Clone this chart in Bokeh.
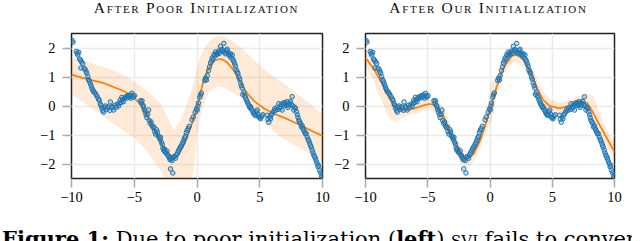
import numpy as np
from bokeh.plotting import figure
from bokeh.models import Div, FixedTicker
from bokeh.layouts import row, column
from bokeh.embed import file_html
from bokeh.resources import INLINE

# ---------------- data ----------------
obs_x = [
    -9.95, -9.88, -9.62, -9.55, -9.50, -9.42, -9.35, -9.28, -9.25, -9.20,
    -9.10, -9.00, -8.92, -8.85, -8.78, -8.70, -8.65, -8.58, -8.50, -8.44,
    -8.38, -8.30, -8.25, -8.15, -8.05, -7.95, -7.85, -7.79, -7.71, -7.65,
    -7.58, -7.50, -7.45, -7.38, -7.30, -7.22, -7.12, -7.05, -6.95, -6.90,
    -6.80, -6.72, -6.65, -6.55, -6.45, -6.35, -6.25, -6.18, -6.12, -6.05,
    -5.99, -5.92, -5.86, -5.78, -5.70, -5.62, -5.55, -5.48, -5.40, -5.32,
    -5.26, -5.19, -5.12, -5.06, -4.98, -4.50, -4.42, -4.38, -4.30, -4.26,
    -4.20, -4.13, -4.06, -4.00, -3.92, -3.86, -3.80, -3.73, -3.65, -3.58,
    -3.50, -3.44, -3.38, -3.30, -3.22, -3.17, -3.10, -3.02, -2.95, -2.90,
    -2.84, -2.77, -2.72, -2.66, -2.60, -2.55, -2.48, -2.40, -2.35, -2.28,
    -2.22, -2.15, -2.11, -2.06, -1.98, -1.93, -1.90, -1.82, -1.72, -1.62,
    -1.55, -1.48, -1.40, -1.33, -1.25, -1.18, -1.10, -1.05, -0.98, -0.92,
    -0.85, -0.78, -0.70, -0.62, -0.40, -0.30, -0.15, -0.05, 0.02, 0.07,
    0.12, 0.22, 0.28, 0.35, 0.62, 0.68, 0.76, 0.82, 0.92, 1.00,
    1.08, 1.15, 1.21, 1.28, 1.35, 1.42, 1.47, 1.55, 1.61, 1.68,
    1.74, 1.80, 1.87, 1.95, 2.01, 2.08, 2.14, 2.20, 2.27, 2.34,
    2.41, 2.48, 2.55, 2.60, 2.68, 2.74, 2.81, 2.87, 2.93, 3.00,
    3.07, 3.12, 3.20, 3.26, 3.33, 3.40, 3.47, 3.54, 3.60, 3.65,
    3.73, 3.80, 3.86, 3.93, 4.00, 4.07, 4.13, 4.20, 4.26, 4.33,
    4.40, 4.47, 4.53, 4.60, 4.66, 4.73, 4.80, 4.86, 4.93, 5.00,
    5.06, 5.15, 5.25, 5.59, 5.65, 5.72, 5.80, 5.86, 5.93, 5.99,
    6.08, 6.18, 6.25, 6.35, 6.45, 6.52, 6.60, 6.65, 6.72, 6.79,
    6.86, 6.92, 7.00, 7.05, 7.12, 7.18, 7.25, 7.32, 7.38, 7.45,
    7.52, 7.58, 7.65, 7.71, 7.78, 7.85, 7.92, 8.00, 8.05, 8.11,
    8.18, 8.25, 8.31, 8.38, 8.45, 8.51, 8.58, 8.64, 8.70, 8.78,
    8.85, 8.91, 8.98, 9.04, 9.10, 9.18, 9.24, 9.31, 9.38, 9.44,
    9.50, 9.58, 9.65, 9.70, 9.76, 9.85, 9.92, 9.97,
]
obs_y = [
    2.26, 2.20, 1.88, 1.82, 1.76, 1.85, 1.62, 1.58, 1.31, 1.52,
    1.46, 1.30, 1.27, 1.20, 1.13, 1.02, 0.91, 0.86, 0.78, 0.70,
    0.62, 0.55, 0.50, 0.46, 0.40, 0.32, 0.24, 0.20, 0.08, 0.02,
    -0.08, -0.15, -0.21, -0.05, 0.00, -0.12, -0.03, -0.06, -0.15, 0.14,
    -0.02, -0.05, -0.14, 0.02, -0.05, 0.06, 0.00, 0.10, 0.20, 0.12,
    0.30, 0.22, 0.15, 0.26, 0.30, 0.33, 0.28, 0.36, 0.31, 0.38,
    0.27, 0.44, 0.35, 0.31, 0.36, 0.18, 0.10, 0.18, 0.02, -0.03,
    -0.12, -0.20, -0.30, -0.40, -0.28, -0.14, -0.50, -0.60, -0.55, -0.68,
    -0.74, -0.72, -0.88, -0.97, -0.82, -0.90, -1.02, -1.08, -1.15, -1.08,
    -1.25, -1.32, -1.45, -1.52, -1.48, -1.58, -1.62, -1.55, -1.68, -1.72,
    -1.78, -1.85, -2.17, -1.82, -1.88, -2.31, -1.78, -1.74, -1.80, -1.68,
    -1.62, -1.55, -1.48, -1.42, -1.38, -1.30, -1.25, -1.18, -1.10, -1.05,
    -0.92, -0.84, -0.78, -0.70, -0.48, -0.38, -0.22, -0.10, -0.14, 0.00,
    0.10, 0.30, 0.38, 0.45, 0.88, 0.96, 0.90, 1.05, 1.22, 1.35,
    1.48, 1.55, 1.66, 1.62, 1.77, 1.72, 1.86, 1.80, 1.78, 1.85,
    1.90, 1.82, 2.06, 1.92, 1.95, 1.88, 2.16, 1.85, 1.80, 1.92,
    1.96, 1.84, 1.78, 1.72, 1.80, 1.66, 1.76, 1.60, 1.54, 1.45,
    1.37, 1.25, 1.18, 1.12, 1.00, 0.92, 0.80, 0.70, 0.62, 0.40,
    0.46, 0.36, 0.30, 0.22, 0.14, 0.08, 0.03, -0.05, -0.02, -0.10,
    -0.15, -0.22, -0.27, -0.30, -0.33, -0.20, -0.14, -0.28, -0.38, -0.40,
    -0.44, -0.35, -0.30, -0.32, -0.45, -0.56, -0.38, -0.44, -0.30, -0.26,
    -0.20, -0.10, -0.15, -0.05, -0.12, 0.08, -0.08, -0.02, 0.05, -0.14,
    0.10, 0.03, 0.12, 0.08, 0.02, 0.15, -0.05, 0.03, 0.10, 0.16,
    0.05, 0.32, 0.00, -0.14, -0.05, -0.08, -0.20, -0.30, -0.40, -0.49,
    -0.55, -0.60, -0.72, -0.68, -0.78, -0.84, -0.90, -0.96, -0.95, -1.07,
    -1.15, -1.20, -1.28, -1.36, -1.42, -1.52, -1.62, -1.70, -1.75, -1.82,
    -1.90, -1.99, -2.10, -2.05, -2.22, -2.30, -2.40, -2.45,
]

# left panel: mean after poor initialization
poor_x = [-10, -8.75, -7.43, -6.1, -5.5, -5.0, -4.5, -4.0, -3.7, -3.3, -3.0, -2.65,
          -2.3, -2.0, -1.8, -1.55, -1.3, -1.0, -0.7, -0.4, -0.1, 0.2, 0.54, 0.8,
          1.08, 1.4, 1.74, 2.05, 2.41, 2.8, 3.2, 3.6, 4.0, 4.6, 5.32, 6.1, 6.92,
          7.7, 8.51, 9.2, 10]
poor_mean = [1.08, 0.93, 0.79, 0.56, 0.43, 0.28, 0.05, -0.3, -0.58, -0.93, -1.16, -1.42,
             -1.62, -1.74, -1.77, -1.72, -1.56, -1.3, -0.98, -0.6, -0.2, 0.32, 0.9, 1.18,
             1.4, 1.56, 1.62, 1.6, 1.5, 1.3, 1.03, 0.72, 0.44, 0.15, -0.08, -0.26, -0.4,
             -0.55, -0.72, -0.87, -1.03]
# left panel: uncertainty band
poor_band_x = [-10, -9, -8, -7, -6, -5, -4, -3.4, -2.8, -2.3, -1.85, -1.4, -0.9, -0.4,
               -0.2, 0, 0.3, 0.6, 1.0, 1.6, 2.2, 3.0, 3.7, 4.5, 5.5, 6.9, 8.5, 10]
poor_upper = [1.66, 1.56, 1.42, 1.28, 1.1, 0.85, 0.52, 0.3, 0.0, -0.45, -0.84, -0.55,
              -0.05, 0.6, 0.95, 1.3, 1.75, 2.0, 2.25, 2.42, 2.4, 2.2, 1.95, 1.6, 1.2,
              0.79, 0.25, -0.28]
poor_lower = [0.38, 0.1, -0.2, -0.5, -0.8, -1.1, -1.55, -1.9, -2.3, -2.6, -2.75, -2.8,
              -2.75, -2.5, -2.0, -1.0, -0.3, 0.15, 0.5, 0.67, 0.62, 0.42, 0.21, -0.2,
              -0.65, -1.15, -1.53, -1.9]

# right panel: mean after our initialization
ours_x = [-10, -9.28, -8.62, -8.09, -7.55, -7.0, -6.63, -6.0, -5.3, -4.77, -4.37, -3.7,
          -3.04, -2.38, -1.98, -1.65, -1.31, -0.78, -0.25, 0.15, 0.54, 1.08, 1.74, 2.14,
          2.67, 3.2, 3.73, 4.26, 4.8, 5.59, 6.39, 7.19, 7.77, 8.25, 8.6, 9.04, 9.5, 10]
ours_mean = [1.66, 1.25, 0.73, 0.27, -0.08, -0.15, -0.14, -0.07, 0.03, 0.07, 0.0, -0.37,
             -1.07, -1.65, -1.79, -1.77, -1.65, -1.18, -0.49, 0.09, 0.67, 1.31, 1.72, 1.78,
             1.6, 1.2, 0.67, 0.21, 0.0, -0.08, 0.0, 0.15, 0.12, -0.2, -0.5, -0.84, -1.2, -1.58]
ours_up = [0.3, 0.3, 0.3, 0.3, 0.25, 0.2, 0.2, 0.2, 0.2, 0.2, 0.25, 0.3, 0.3, 0.3, 0.25,
           0.25, 0.25, 0.3, 0.35, 0.8, 0.35, 0.3, 0.25, 0.25, 0.25, 0.25, 0.3, 0.3, 0.25,
           0.2, 0.2, 0.2, 0.3, 0.55, 0.5, 0.35, 0.3, 0.25]
ours_dn = [0.3, 0.45, 0.65, 0.7, 0.45, 0.25, 0.2, 0.2, 0.2, 0.2, 0.25, 0.3, 0.3, 0.3, 0.35,
           0.3, 0.25, 0.3, 0.3, 0.6, 0.3, 0.25, 0.25, 0.25, 0.25, 0.25, 0.3, 0.3, 0.25,
           0.2, 0.2, 0.2, 0.25, 0.3, 0.3, 0.3, 0.3, 0.25]

x_ticks = [-10, -5, 0, 5, 10]
x_tick_labels = ["\u221210", "\u22125", "0", "5", "10"]
y_ticks = [-2, -1, 0, 1, 2]
y_tick_labels = ["\u22122", "\u22121", "0", "1", "2"]

titles = ["After Poor Initialization", "After Our Initialization"]

assert len(obs_x) == len(obs_y)

# ---------------- style ----------------
SERIF = "Liberation Serif"
BLUE = "#1f77b4"
ORANGE = "#ff7f0e"
FRAME_W, FRAME_H = 251, 145
TOP, BOTTOM = 13, 32
PLOT_H = TOP + FRAME_H + BOTTOM


def panel(width, left, right, mx, my, bx, blo, bhi):
    p = figure(width=width, height=PLOT_H, x_range=(-10, 10), y_range=(-2.5, 2.5),
               output_backend="svg", toolbar_location=None, title=None,
               min_border_left=left, min_border_right=right,
               min_border_top=TOP, min_border_bottom=BOTTOM, margin=0)
    p.varea(x=bx, y1=blo, y2=bhi, fill_color=ORANGE, fill_alpha=0.16)
    p.line(mx, my, line_color=ORANGE, line_width=1.8)
    p.scatter(obs_x, obs_y, size=4.5, marker="circle", line_color=BLUE,
              fill_color=BLUE, fill_alpha=0.25, line_width=1.0)

    p.xaxis.ticker = FixedTicker(ticks=x_ticks)
    p.yaxis.ticker = FixedTicker(ticks=y_ticks)
    p.xaxis.major_label_overrides = dict(zip(x_ticks, x_tick_labels))
    p.yaxis.major_label_overrides = dict(zip(y_ticks, y_tick_labels))
    p.axis.axis_line_color = None
    p.axis.major_tick_line_color = "#aaaaaa"
    p.axis.major_tick_line_width = 1.5
    p.axis.major_tick_out = 9
    p.axis.major_tick_in = 0
    p.axis.minor_tick_line_color = None
    p.axis.major_label_text_font = SERIF
    p.axis.major_label_text_font_size = "14.5px"
    p.axis.major_label_text_color = "#000000"
    p.yaxis.major_label_standoff = 7
    p.xaxis.major_label_standoff = 4
    p.grid.grid_line_color = "#ebebeb"
    p.grid.grid_line_width = 1.5
    p.outline_line_color = "#222222"
    p.outline_line_width = 1.5
    p.background_fill_color = "#ffffff"
    p.border_fill_color = "#ffffff"
    return p


ours_lo = list(np.array(ours_mean) - np.array(ours_dn))
ours_hi = list(np.array(ours_mean) + np.array(ours_up))

p1 = panel(331, 71, 9, poor_x, poor_mean, poor_band_x, poor_lower, poor_upper)
p2 = panel(301, 32, 18, ours_x, ours_mean, ours_x, ours_lo, ours_hi)


def title_div(txt, width, left):
    html = ("<div style=\"font-family:'Liberation Serif';font-size:15.5px;line-height:15px;"
            "font-variant:small-caps;letter-spacing:1.7px;text-align:center;color:#111;"
            f"width:{FRAME_W}px;margin-left:{left}px;white-space:nowrap\">{txt}</div>")
    return Div(text=html, width=width, height=20, margin=0,
               styles={"overflow": "hidden"})


t1 = title_div(titles[0], 331, 71)
t2 = title_div(titles[1], 301, 32)

caption_html = (
    "<div style=\"font-family:'DejaVu Serif';font-size:21px;line-height:21px;color:#000;"
    "white-space:nowrap;padding-top:18px;padding-left:2px\">"
    "<b>Figure 1:</b> Due to poor initialization (<b>left</b>) "
    "<span style='font-variant:small-caps'>svi</span> fails to converge</div>"
)
cap = Div(text=caption_html, width=632, height=31, margin=0,
          styles={"overflow": "hidden", "white-space": "nowrap"})

root = column(row(t1, t2, spacing=0), row(p1, p2, spacing=0), cap, spacing=0)

open("out.html", "w").write(file_html(root, INLINE))
